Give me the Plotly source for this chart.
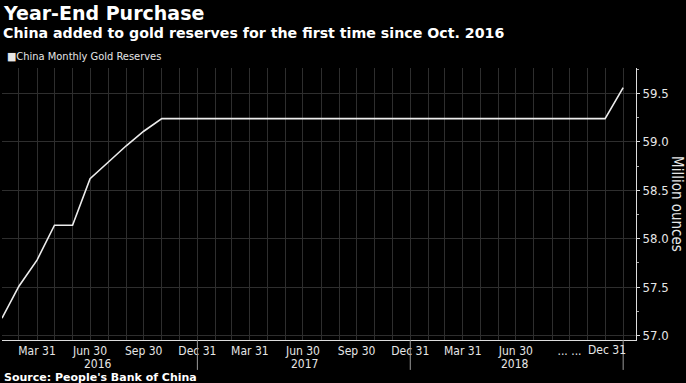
import plotly.graph_objects as go

# ---- data ----
dates = [
    "2016-01-31", "2016-02-29", "2016-03-31", "2016-04-30", "2016-05-31", "2016-06-30",
    "2016-07-31", "2016-08-31", "2016-09-30", "2016-10-31", "2016-11-30", "2016-12-31",
    "2017-01-31", "2017-02-28", "2017-03-31", "2017-04-30", "2017-05-31", "2017-06-30",
    "2017-07-31", "2017-08-31", "2017-09-30", "2017-10-31", "2017-11-30", "2017-12-31",
    "2018-01-31", "2018-02-28", "2018-03-31", "2018-04-30", "2018-05-31", "2018-06-30",
    "2018-07-31", "2018-08-31", "2018-09-30", "2018-10-31", "2018-11-30", "2018-12-31",
]
reserves = [
    57.18, 57.51, 57.78, 58.14, 58.14, 58.62,
    58.79, 58.96, 59.11, 59.24, 59.24, 59.24,
    59.24, 59.24, 59.24, 59.24, 59.24, 59.24,
    59.24, 59.24, 59.24, 59.24, 59.24, 59.24,
    59.24, 59.24, 59.24, 59.24, 59.24, 59.24,
    59.24, 59.24, 59.24, 59.24, 59.24, 59.56,
]
tick_labels = [
    "", "", "Mar 31", "", "", "Jun 30", "", "", "Sep 30", "", "", "Dec 31",
    "", "", "Mar 31", "", "", "Jun 30", "", "", "Sep 30", "", "", "Dec 31",
    "", "", "Mar 31", "", "", "Jun 30", "", "", "... ...", "", "", "",
]
year_labels = ["2016", "2017", "2018"]
year_label_dates = ["2016-07-14", "2017-07-02", "2018-06-28"]
year_separators = ["2016-12-31", "2017-12-31", "2018-12-31"]
last_label = "Dec 31"
last_label_date = "2018-12-04"

series_name = "China Monthly Gold Reserves"
title = "Year-End Purchase"
subtitle = "China added to gold reserves for the first time since Oct. 2016"
source = "Source: People's Bank of China"
y_title = "Million ounces"

BG = "#000000"
TXT = "#e6e6e6"
GRID = "#2e2e2e"
LINE = "#ececec"
FONT = "DejaVu Sans"
NARROW = "DejaVu Sans Condensed, Liberation Sans Narrow, sans-serif"

fig = go.Figure()
fig.add_trace(go.Scatter(
    x=dates, y=reserves, mode="lines", name=series_name,
    line=dict(color=LINE, width=1.6), showlegend=False,
))

fig.update_layout(
    width=686, height=383,
    paper_bgcolor=BG, plot_bgcolor=BG,
    margin=dict(l=2, r=50, t=68, b=43, autoexpand=False),
    font=dict(family=NARROW, color=TXT, size=12),
    xaxis=dict(
        type="date", automargin=False,
        range=["2016-01-31", "2019-01-22"],
        tickmode="array", tickvals=dates, ticktext=tick_labels,
        showgrid=True, gridcolor=GRID, gridwidth=1,
        showline=True, linecolor="#dddddd", linewidth=1,
        ticks="", tickangle=0,
        tickfont=dict(family=NARROW, size=12, color=TXT),
        zeroline=False,
    ),
    yaxis=dict(
        side="right", automargin=False,
        range=[56.955, 59.763],
        tickvals=[57.0, 57.5, 58.0, 58.5, 59.0, 59.5],
        ticktext=["57.0", "57.5", "58.0", "58.5", "59.0", "59.5"],
        showgrid=True, gridcolor=GRID, gridwidth=1,
        showline=True, linecolor="#dddddd", linewidth=1,
        ticks="outside", ticklen=3, tickcolor="#dddddd",
        minor=dict(dtick=0.25, tick0=57.0, ticks="outside", ticklen=2, tickcolor="#aaaaaa", showgrid=False),
        tickfont=dict(family=NARROW, size=13, color=TXT),
        zeroline=False,
    ),
)

annotations = [
    dict(text="<b>" + title + "</b>", x=0, y=1, xref="paper", yref="paper",
         xshift=-1, yshift=68, xanchor="left", yanchor="top", showarrow=False,
         font=dict(family=FONT, size=19, color="#ffffff")),
    dict(text="<b>" + subtitle + "</b>", x=0, y=1, xref="paper", yref="paper",
         xshift=-1, yshift=45, xanchor="left", yanchor="top", showarrow=False,
         font=dict(family=FONT, size=14.2, color="#ffffff")),
    dict(text="\u25A0" + series_name, x=0, y=1, xref="paper", yref="paper",
         xshift=3, yshift=20, xanchor="left", yanchor="top", showarrow=False,
         font=dict(family=NARROW, size=11, color=TXT)),
    dict(text="<b>" + source + "</b>", x=0, y=0, xref="paper", yref="paper",
         xshift=0, yshift=-29, xanchor="left", yanchor="top", showarrow=False,
         font=dict(family=FONT, size=11, color="#ffffff")),
    dict(text=y_title, x=1, y=0.5, xref="paper", yref="paper", textangle=90,
         xshift=41, xanchor="center", yanchor="middle", showarrow=False,
         font=dict(family=NARROW, size=15, color=TXT)),
    dict(text=last_label, x=last_label_date, y=0, xref="x", yref="paper",
         yshift=-1, xanchor="center", yanchor="top", showarrow=False,
         font=dict(family=NARROW, size=12, color=TXT)),
]
for lab, d in zip(year_labels, year_label_dates):
    annotations.append(dict(text=lab, x=d, y=0, xref="x", yref="paper",
                            yshift=-15, xanchor="center", yanchor="top", showarrow=False,
                            font=dict(family=NARROW, size=12, color=TXT)))
fig.update_layout(annotations=annotations)

shapes = []
for d in year_separators:
    shapes.append(dict(type="line", x0=d, x1=d, y0=0, y1=-0.11, xref="x", yref="paper",
                       line=dict(color="#9a9a9a", width=1)))
fig.update_layout(shapes=shapes)

fig.write_html(
    "out.html",
    config={"displayModeBar": False},
    post_script="document.body.style.margin='0px';document.body.style.overflow='hidden';",
)
